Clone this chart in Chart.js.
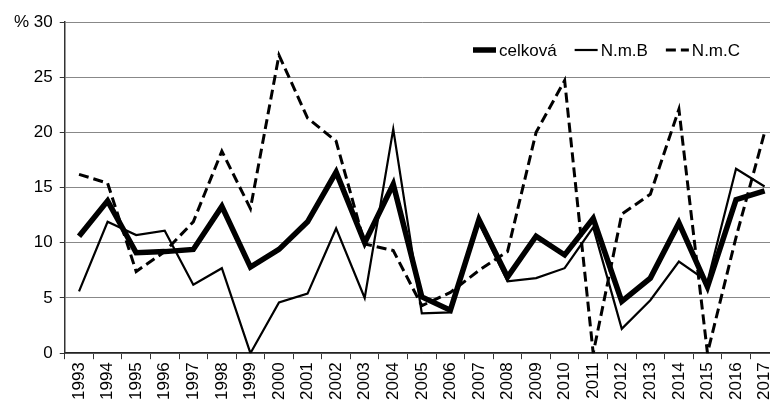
<!DOCTYPE html>
<html>
<head>
<meta charset="utf-8">
<script src="https://cdn.jsdelivr.net/npm/chart.js@4"></script>
<style>
  html, body { margin: 0; padding: 0; background: #fff; overflow: hidden; }
  #obal { position: relative; width: 788px; height: 403px; }
</style>
</head>
<body>
<div id="obal"><canvas id="graf"></canvas></div>
<script>
// roky na ose x
const roky = ['1993', '1994', '1995', '1996', '1997', '1998', '1999', '2000', '2001',
  '2002', '2003', '2004', '2005', '2006', '2007', '2008', '2009', '2010', '2011',
  '2012', '2013', '2014', '2015', '2016', '2017'];

// hodnoty v %
const celkova = [10.6, 13.8, 9.1, 9.2, 9.4, 13.3, 7.8, 9.4, 11.9, 16.4, 10.0, 15.3, 5.1,
  3.9, 12.1, 6.9, 10.6, 8.9, 12.2, 4.7, 6.8, 11.8, 6.0, 13.9, 14.7];
const nmB = [5.6, 11.9, 10.7, 11.1, 6.2, 7.7, 0, 4.6, 5.4, 11.3, 5.0, 20.3, 3.6,
  3.7, 11.8, 6.5, 6.8, 7.7, 11.4, 2.2, 4.8, 8.3, 6.5, 16.7, 15.1];
const nmC = [16.2, 15.4, 7.4, 9.2, 11.9, 18.3, 13.1, 27.0, 21.3, 19.2, 9.9, 9.3, 4.3,
  5.5, 7.5, 9.2, 20.0, 24.7, 0, 12.6, 14.4, 22.1, 0, 10.5, 20.0];

const osaY = [0, 5, 10, 15, 20, 25, 30];

const pismo = "'Liberation Sans', Arial, sans-serif";
Chart.defaults.font.family = pismo;
Chart.defaults.font.size = 17;
Chart.defaults.color = '#000';

// vlastni legenda uvnitr grafu (vpravo nahore)
const legenda = {
  id: 'legenda',
  afterDraw(chart) {
    const ctx = chart.ctx;
    const y = 50;
    let x = 473;
    ctx.save();
    ctx.font = '17px ' + pismo;
    ctx.textBaseline = 'middle';
    ctx.fillStyle = '#000';
    chart.data.datasets.forEach(ds => {
      ctx.beginPath();
      ctx.lineWidth = ds.borderWidth;
      ctx.strokeStyle = '#000';
      ctx.setLineDash(ds.borderDash || []);
      ctx.moveTo(x, y);
      ctx.lineTo(x + 23, y);
      ctx.stroke();
      ctx.setLineDash([]);
      x += 26;
      ctx.fillText(ds.label, x, y + 1);
      x += ctx.measureText(ds.label).width + 18;
    });
    ctx.restore();
  }
};

new Chart(document.getElementById('graf'), {
  type: 'line',
  data: {
    labels: roky,
    datasets: [
      { label: 'celková', data: celkova, borderColor: '#000', borderWidth: 5.5 },
      { label: 'N.m.B', data: nmB, borderColor: '#000', borderWidth: 2.2 },
      { label: 'N.m.C', data: nmC, borderColor: '#000', borderWidth: 3, borderDash: [10, 5] }
    ]
  },
  options: {
    responsive: true,
    maintainAspectRatio: false,
    animation: false,
    layout: { padding: { left: 7, top: 22, right: 0, bottom: 0 } },
    elements: {
      point: { radius: 0 },
      line: { tension: 0, borderJoinStyle: 'miter', borderCapStyle: 'butt' }
    },
    plugins: {
      legend: { display: false },
      tooltip: { enabled: false }
    },
    scales: {
      x: {
        offset: true,
        grid: { offset: true, drawOnChartArea: false, tickLength: 6, color: '#333' },
        border: { color: '#222', width: 1.5 },
        ticks: { minRotation: 90, maxRotation: 90, autoSkip: false, padding: 3 }
      },
      y: {
        min: 0,
        max: 30,
        afterBuildTicks: osa => { osa.ticks = osaY.map(v => ({ value: v })); },
        grid: { color: '#888', lineWidth: 1, tickLength: 5, tickColor: '#333' },
        border: { color: '#333', width: 1.5 },
        ticks: {
          padding: 7,
          callback: v => v === 30 ? '% 30' : v
        }
      }
    }
  },
  plugins: [legenda]
});
</script>
</body>
</html>
